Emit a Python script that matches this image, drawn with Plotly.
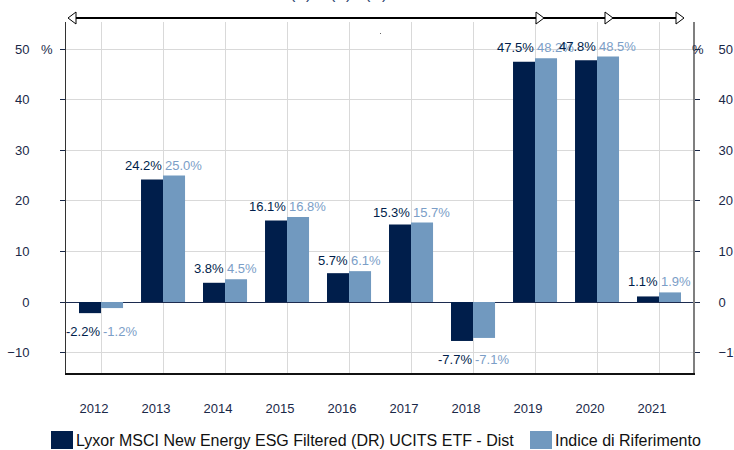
import plotly.graph_objects as go

years = ["2012", "2013", "2014", "2015", "2016", "2017", "2018", "2019", "2020", "2021"]
fund_name = "Lyxor MSCI New Energy ESG Filtered (DR) UCITS ETF - Dist"
index_name = "Indice di Riferimento"
fund_values = [-2.2, 24.2, 3.8, 16.1, 5.7, 15.3, -7.7, 47.5, 47.8, 1.1]
index_values = [-1.2, 25.0, 4.5, 16.8, 6.1, 15.7, -7.1, 48.2, 48.5, 1.9]
y_ticks = [-10, 0, 10, 20, 30, 40, 50]
period_marks = ["(A)", "(B)", "(C)"]

DARK = "#001e4b"
LIGHT = "#7199bf"
LIGHT_TXT = "#7b9ec7"
NAVY_TXT = "#1a2848"
GRID = "#d9d9d9"
FONT = "Liberation Sans, Arial, sans-serif"

W, H = 734, 450
L, R, T, B = 66, 41, 22, 77
PW, PH = W - L - R, H - T - B


def px(x):
    return (x - L) / PW


def py(y):
    return (H - B - y) / PH


fig = go.Figure()
fig.add_trace(go.Bar(x=years, y=fund_values, name=fund_name, marker=dict(color=DARK, line=dict(width=0))))
fig.add_trace(go.Bar(x=years, y=index_values, name=index_name, marker=dict(color=LIGHT, line=dict(width=0))))
# invisible trace to activate right axis
fig.add_trace(go.Scatter(x=years, y=fund_values, yaxis="y2", mode="markers",
                         marker=dict(opacity=0), showlegend=False, hoverinfo="skip"))

annotations = []
for k, (f, i) in enumerate(zip(fund_values, index_values)):
    top = max(f, i)
    bot = min(f, i)
    if top >= 0:
        yv, ya, ys = top, "bottom", 1
    else:
        yv, ya, ys = bot, "top", -9
    annotations.append(dict(x=k, y=yv, xref="x", yref="y", text=f"{f:.1f}%", showarrow=False,
                            xanchor="right", yanchor=ya, yshift=ys, xshift=1,
                            font=dict(size=13, color=DARK, family=FONT)))
    annotations.append(dict(x=k, y=yv, xref="x", yref="y", text=f"{i:.1f}%", showarrow=False,
                            xanchor="left", yanchor=ya, yshift=ys, xshift=0,
                            font=dict(size=13, color=LIGHT_TXT, family=FONT)))

# % markers
for xp in (47, 698):
    annotations.append(dict(x=px(xp), y=50, xref="paper", yref="y", text="%", showarrow=False,
                            xanchor="center", yanchor="middle",
                            font=dict(size=13, color=NAVY_TXT, family=FONT)))

# top period marks (cut off)
for xp, t in zip((300, 340, 376), period_marks):
    annotations.append(dict(x=px(xp), y=py(4), xref="paper", yref="paper", text=t, showarrow=False,
                            xanchor="center", yanchor="bottom",
                            font=dict(size=16, color="#2a3f6e", family=FONT)))

# legend
annotations.append(dict(x=px(74), y=py(440), xref="paper", yref="paper", text=fund_name, showarrow=False,
                        xanchor="left", yanchor="middle", font=dict(size=16, color="#111111", family=FONT)))
annotations.append(dict(x=px(553), y=py(440), xref="paper", yref="paper", text=index_name, showarrow=False,
                        xanchor="left", yanchor="middle", font=dict(size=16, color="#111111", family=FONT)))

shapes = []
shapes.append(dict(type="rect", xref="paper", yref="paper", x0=px(51), x1=px(73), y0=py(431), y1=py(449),
                   fillcolor=DARK, line=dict(width=0)))
shapes.append(dict(type="rect", xref="paper", yref="paper", x0=px(530), x1=px(552), y0=py(431), y1=py(449),
                   fillcolor=LIGHT, line=dict(width=0)))

# top arrows
ay = 18
shapes.append(dict(type="line", xref="paper", yref="paper", x0=px(70), x1=px(682), y0=py(ay), y1=py(ay),
                   line=dict(color="#000000", width=2)))


def tri(tip, direction):
    base = tip - 8 * direction
    return (f"M {px(base)},{py(ay - 6)} L {px(tip)},{py(ay)} L {px(base)},{py(ay + 6)} Z")


for tip, d in ((68, -1), (544, 1), (613, 1), (684, 1)):
    shapes.append(dict(type="path", xref="paper", yref="paper", path=tri(tip, d),
                       fillcolor="white", line=dict(color="#000000", width=1)))

# tiny dot
shapes.append(dict(type="rect", xref="paper", yref="paper", x0=px(380), x1=px(381), y0=py(33), y1=py(34),
                   fillcolor="#666666", line=dict(width=0)))

yr_range = [-14.03, 55.34]

fig.update_layout(
    width=W, height=H,
    margin=dict(l=L, r=R, t=T, b=B, autoexpand=False),
    paper_bgcolor="white", plot_bgcolor="white",
    barmode="group", bargap=0.29, bargroupgap=0,
    showlegend=False,
    font=dict(family=FONT, color=NAVY_TXT, size=13),
    xaxis=dict(type="category", range=[-0.565, 9.548], showgrid=True, gridcolor=GRID, gridwidth=1,
               showline=True, linecolor="#111111", linewidth=2, ticks="",
               tickfont=dict(size=13, color=NAVY_TXT), ticklabelstandoff=22, ticklabelshift=-7,
               fixedrange=True),
    yaxis=dict(range=yr_range, tickvals=y_ticks, showgrid=True, gridcolor=GRID, gridwidth=1,
               zeroline=True, zerolinecolor="#1c2b4f", zerolinewidth=1,
               showline=True, linecolor="#333333", linewidth=1,
               ticks="outside", ticklen=5, tickcolor=NAVY_TXT,
               tickfont=dict(size=13, color=NAVY_TXT), ticklabelstandoff=28),
    yaxis2=dict(range=yr_range, tickvals=y_ticks, overlaying="y", side="right", showgrid=False,
                zeroline=False, showline=True, linecolor="#7f7f7f", linewidth=2,
                ticks="outside", ticklen=5, tickcolor=NAVY_TXT,
                tickfont=dict(size=13, color=NAVY_TXT), ticklabelstandoff=16),
    annotations=annotations,
    shapes=shapes,
)

fig.write_html("out.html", config={"displayModeBar": False},
               post_script="document.body.style.margin='0';document.body.style.padding='0';")
